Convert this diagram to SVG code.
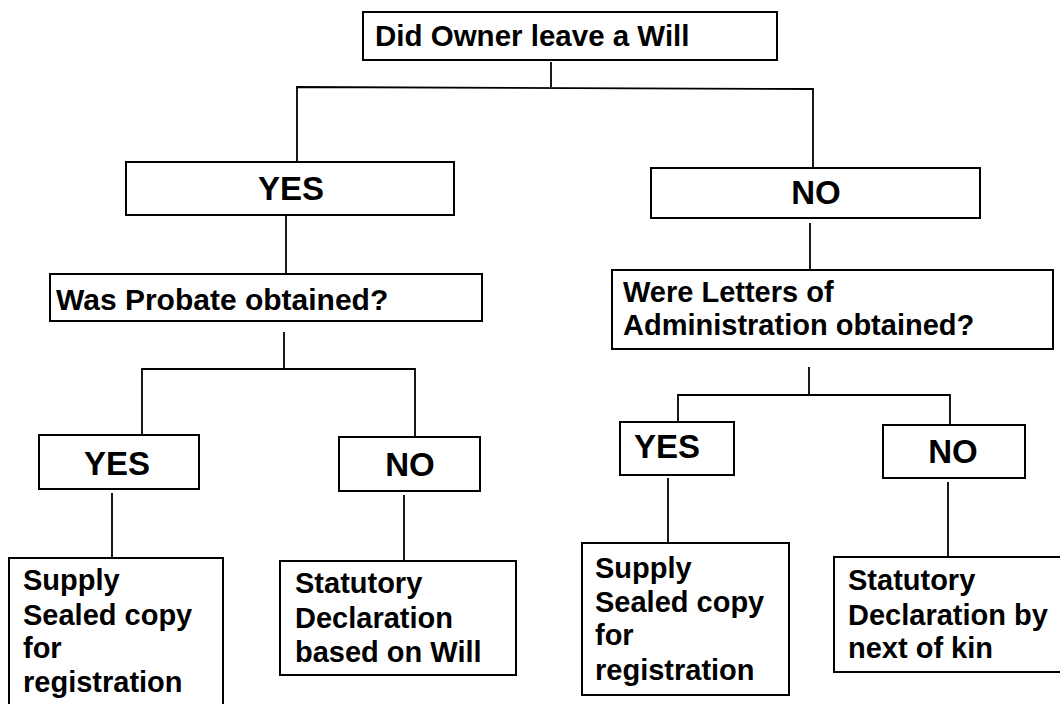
<svg xmlns="http://www.w3.org/2000/svg" width="1060" height="704" viewBox="0 0 1060 704">
<style>
.box{fill:#fff;stroke:#000;stroke-width:2}
.t{font-family:"Liberation Sans",Arial,sans-serif;font-weight:bold;font-size:29px;fill:#000}
.b{font-family:"Liberation Sans",Arial,sans-serif;font-weight:bold;font-size:33px;fill:#000;text-anchor:middle}
.c{fill:none;stroke:#000;stroke-width:1.8}
</style>
<rect width="1060" height="704" fill="#fff"/>
<g id="connectors">
<path class="c" d="M551,62 V87"/>
<path class="c" d="M297,162 V87 L813,89 V168"/>
<path class="c" d="M286,215 V274"/>
<path class="c" d="M284,332 V369"/>
<path class="c" d="M142,435 V369 H415 V437"/>
<path class="c" d="M112,493 V558"/>
<path class="c" d="M404,495 V561"/>
<path class="c" d="M810,223 V270"/>
<path class="c" d="M809,367 V395"/>
<path class="c" d="M678,422 V395 H950 V425"/>
<path class="c" d="M668,478 V543"/>
<path class="c" d="M948,482 V557"/>
</g>
<g id="n_will">
<rect class="box" x="363" y="12" width="414" height="48"/>
<text class="t" x="375" y="46" style="font-size:29.5px">Did Owner leave a Will</text>
</g>
<g id="n_yes1">
<rect class="box" x="126" y="162" width="328" height="53"/>
<text class="b" x="291" y="200">YES</text>
</g>
<g id="n_no1">
<rect class="box" x="651" y="168" width="329" height="50"/>
<text class="b" x="816" y="204">NO</text>
</g>
<g id="n_probate">
<rect class="box" x="50" y="274" width="432" height="47"/>
<text class="t" x="56" y="310" style="font-size:30px">Was Probate obtained?</text>
</g>
<g id="n_letters">
<rect class="box" x="612" y="270" width="441" height="79"/>
<text class="t" x="623" y="302">Were Letters of</text>
<text class="t" x="623" y="335">Administration obtained?</text>
</g>
<g id="n_yes2">
<rect class="box" x="39" y="435" width="160" height="54"/>
<text class="b" x="117" y="475">YES</text>
</g>
<g id="n_no2">
<rect class="box" x="339" y="437" width="141" height="54"/>
<text class="b" x="410" y="476">NO</text>
</g>
<g id="n_yes3">
<rect class="box" x="620" y="422" width="114" height="53"/>
<text class="b" x="667" y="458">YES</text>
</g>
<g id="n_no3">
<rect class="box" x="883" y="425" width="142" height="53"/>
<text class="b" x="953" y="463">NO</text>
</g>
<g id="n_supply1">
<rect class="box" x="9" y="558" width="214" height="160"/>
<text class="t" x="23" y="590">Supply</text>
<text class="t" x="23" y="625">Sealed copy</text>
<text class="t" x="23" y="658">for</text>
<text class="t" x="23" y="692">registration</text>
</g>
<g id="n_stat1">
<rect class="box" x="280" y="561" width="236" height="114"/>
<text class="t" x="295" y="593">Statutory</text>
<text class="t" x="295" y="628">Declaration</text>
<text class="t" x="295" y="662">based on Will</text>
</g>
<g id="n_supply2">
<rect class="box" x="582" y="543" width="207" height="152"/>
<text class="t" x="595" y="578">Supply</text>
<text class="t" x="595" y="612">Sealed copy</text>
<text class="t" x="595" y="645">for</text>
<text class="t" x="595" y="680">registration</text>
</g>
<g id="n_stat2">
<rect class="box" x="834" y="557" width="240" height="115"/>
<text class="t" x="848" y="590">Statutory</text>
<text class="t" x="848" y="625">Declaration by</text>
<text class="t" x="848" y="658">next of kin</text>
</g>
</svg>
